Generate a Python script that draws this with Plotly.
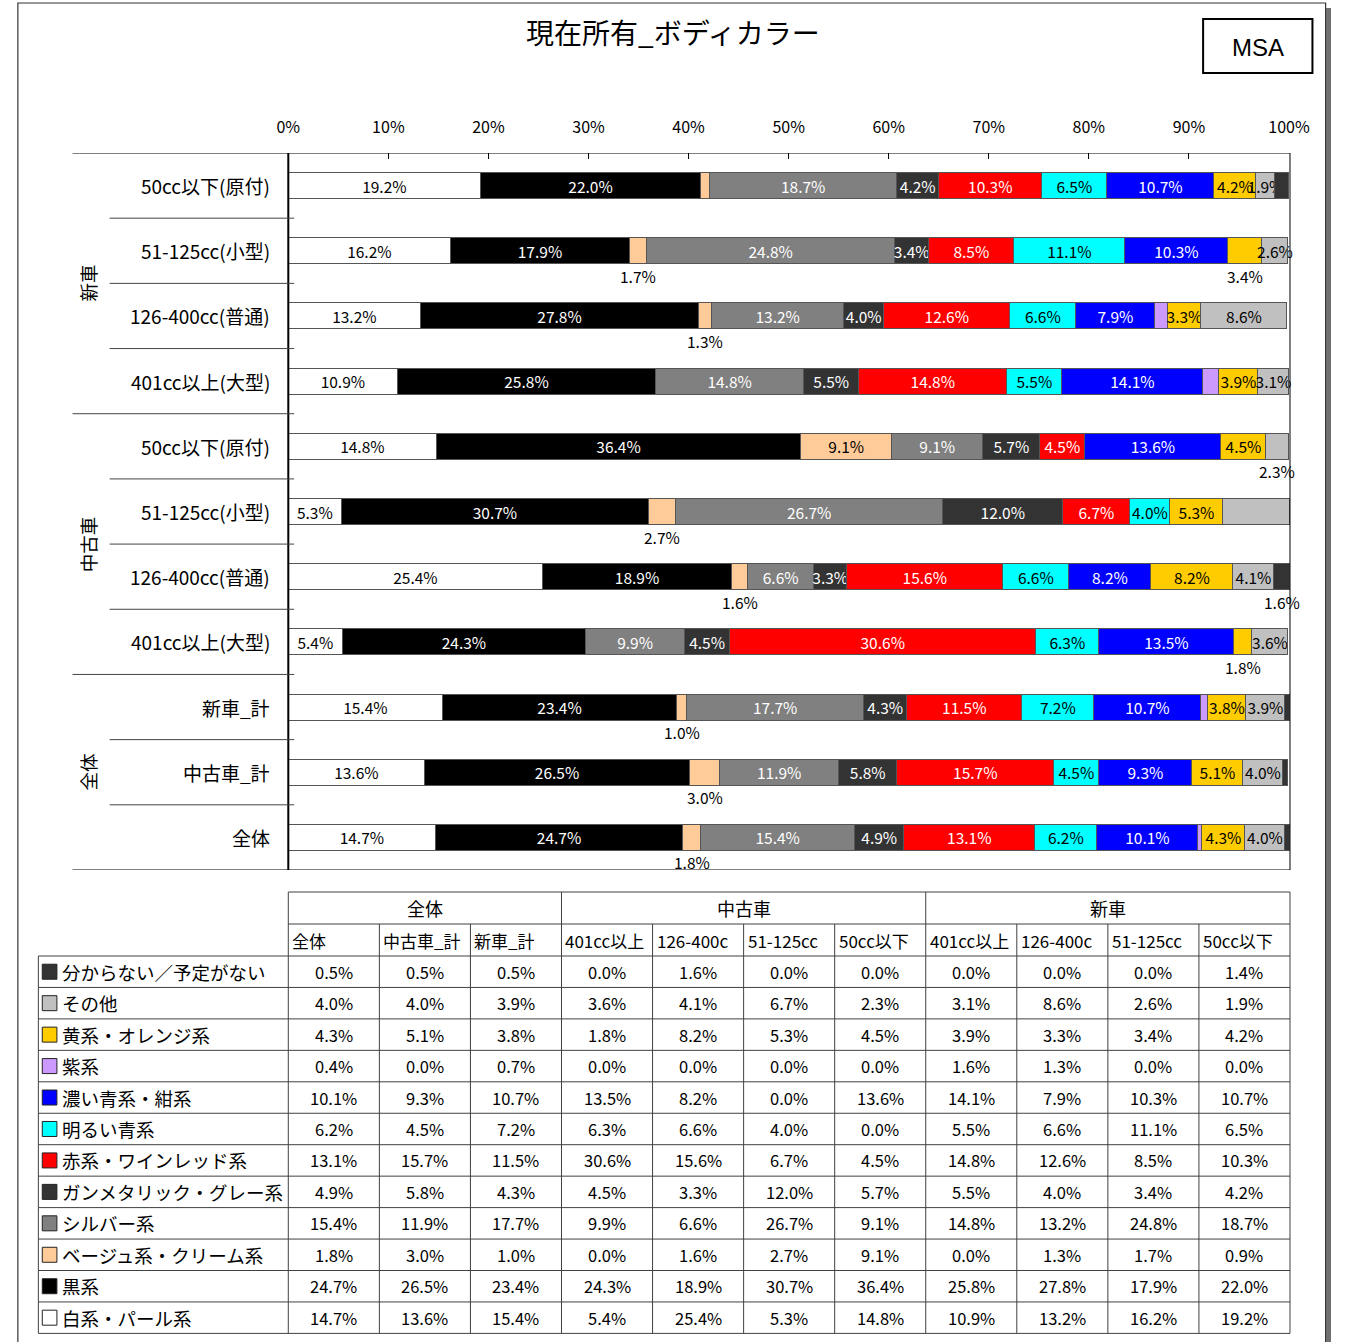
import plotly.graph_objects as go

# ---------------- data ----------------
CATEGORIES = ["50cc以下(原付)", "51-125cc(小型)", "126-400cc(普通)", "401cc以上(大型)",
              "50cc以下(原付)", "51-125cc(小型)", "126-400cc(普通)", "401cc以上(大型)",
              "新車_計", "中古車_計", "全体"]
GROUPS = [("新車", 0, 3), ("中古車", 4, 7), ("全体", 8, 10)]

SERIES = ["白系・パール系", "黒系", "ベージュ系・クリーム系", "シルバー系", "ガンメタリック・グレー系",
          "赤系・ワインレッド系", "明るい青系", "濃い青系・紺系", "紫系", "黄系・オレンジ系",
          "その他", "分からない／予定がない"]

white  = [19.2, 16.2, 13.2, 10.9, 14.8, 5.3, 25.4, 5.4, 15.4, 13.6, 14.7]
black  = [22.0, 17.9, 27.8, 25.8, 36.4, 30.7, 18.9, 24.3, 23.4, 26.5, 24.7]
beige  = [0.9, 1.7, 1.3, 0.0, 9.1, 2.7, 1.6, 0.0, 1.0, 3.0, 1.8]
silver = [18.7, 24.8, 13.2, 14.8, 9.1, 26.7, 6.6, 9.9, 17.7, 11.9, 15.4]
gunmet = [4.2, 3.4, 4.0, 5.5, 5.7, 12.0, 3.3, 4.5, 4.3, 5.8, 4.9]
red    = [10.3, 8.5, 12.6, 14.8, 4.5, 6.7, 15.6, 30.6, 11.5, 15.7, 13.1]
light_blue = [6.5, 11.1, 6.6, 5.5, 0.0, 4.0, 6.6, 6.3, 7.2, 4.5, 6.2]
dark_blue  = [10.7, 10.3, 7.9, 14.1, 13.6, 0.0, 8.2, 13.5, 10.7, 9.3, 10.1]
purple = [0.0, 0.0, 1.3, 1.6, 0.0, 0.0, 0.0, 0.0, 0.7, 0.0, 0.4]
yellow = [4.2, 3.4, 3.3, 3.9, 4.5, 5.3, 8.2, 1.8, 3.8, 5.1, 4.3]
other  = [1.9, 2.6, 8.6, 3.1, 2.3, 6.7, 4.1, 3.6, 3.9, 4.0, 4.0]
unknown = [1.4, 0.0, 0.0, 0.0, 0.0, 0.0, 1.6, 0.0, 0.5, 0.5, 0.5]
SERIES_VALUES = [white, black, beige, silver, gunmet, red, light_blue, dark_blue,
                 purple, yellow, other, unknown]

TICK_VALUES = [0, 10, 20, 30, 40, 50, 60, 70, 80, 90, 100]
TICK_LABELS = [f"{t}%" for t in TICK_VALUES]

TABLE_GROUPS = [("全体", 3), ("中古車", 4), ("新車", 4)]
TABLE_COLS = ["全体", "中古車_計", "新車_計", "401cc以上", "126-400c", "51-125cc", "50cc以下",
              "401cc以上", "126-400c", "51-125cc", "50cc以下"]

# ---------------- styles ----------------
COLORS = ["#FFFFFF", "#000000", "#FFCC99", "#808080", "#333333", "#FF0000", "#00FFFF",
          "#0000FF", "#CC99FF", "#FFCC00", "#C0C0C0", "#333333"]
TEXT_COLORS = ["black", "white", "black", "white", "white", "white", "black",
               "white", "black", "black", "black", "white"]
HIDDEN_SERIES = {"紫系", "分からない／予定がない"}
BELOW = {(1, "ベージュ系・クリーム系"), (1, "黄系・オレンジ系"), (2, "ベージュ系・クリーム系"),
         (4, "その他"), (5, "ベージュ系・クリーム系"), (6, "ベージュ系・クリーム系"),
         (6, "分からない／予定がない"), (7, "黄系・オレンジ系"), (8, "ベージュ系・クリーム系"),
         (9, "ベージュ系・クリーム系"), (10, "ベージュ系・クリーム系")}
FONT = "Noto Sans CJK JP"
W, H = 1351, 1342
PL, PR, PT, PB = 283, 1309, 153, 870


def px(x):
    return x / W


def py(y):
    return 1 - y / H


def note(x, y, text, size, xanchor="center", yanchor="middle", **kw):
    d = dict(x=x, y=y, text=text, showarrow=False, xanchor=xanchor, yanchor=yanchor,
             font=dict(family=kw.pop("family", FONT), size=size, color=kw.pop("color", "black")))
    d.update(kw)
    return d


fig = go.Figure()
ypos = list(range(len(CATEGORIES)))
for s, (name, vals) in enumerate(zip(SERIES, SERIES_VALUES)):
    texts = []
    for i, v in enumerate(vals):
        if (i, name) in BELOW or name in HIDDEN_SERIES or v < 1.5:
            texts.append("")
        else:
            texts.append(f"{v:.1f}%")
    fig.add_trace(go.Bar(
        x=vals, y=ypos, orientation="h", name=name, width=0.4,
        marker=dict(color=COLORS[s], line=dict(color="#555555", width=1)),
        text=texts, textposition="inside", insidetextanchor="middle",
        constraintext="none", textangle=0, cliponaxis=False,
        textfont=dict(family=FONT, size=15.5, color=TEXT_COLORS[s]),
        hoverinfo="skip", showlegend=False))

shapes = []
annotations = []

# labels placed under the bar
for s, (name, vals) in enumerate(zip(SERIES, SERIES_VALUES)):
    for i, v in enumerate(vals):
        if (i, name) in BELOW:
            start = sum(SERIES_VALUES[k][i] for k in range(s))
            annotations.append(note(start + v / 2, i, f"{v:.1f}%", 15.5, xref="x", yref="y", yshift=-25))

# plot frame lines
line_k = dict(color="black", width=1)
shapes.append(dict(type="line", xref="paper", yref="y", x0=px(62), x1=px(PR), y0=-0.5, y1=-0.5, line=line_k))
shapes.append(dict(type="line", xref="paper", yref="y", x0=px(62), x1=px(PR), y0=10.5, y1=10.5, line=line_k))
shapes.append(dict(type="line", xref="paper", yref="y", x0=px(PL), x1=px(PL), y0=-0.5, y1=10.5,
                   line=dict(color="black", width=2)))
shapes.append(dict(type="line", xref="paper", yref="y", x0=px(PR), x1=px(PR), y0=-0.5, y1=10.5, line=line_k))
group_bounds = [g[2] + 0.5 for g in GROUPS[:-1]]
for k in range(len(CATEGORIES) - 1):
    b = k + 0.5
    x0 = 62 if b in group_bounds else 100
    shapes.append(dict(type="line", xref="paper", yref="y", x0=px(x0), x1=px(289), y0=b, y1=b,
                       line=dict(color="#444444", width=1)))

# category labels
for i, c in enumerate(CATEGORIES):
    annotations.append(note(px(266), i, c, 19, xanchor="right", xref="paper", yref="y"))
for g, a, b in GROUPS:
    annotations.append(note(px(78), (a + b) / 2, g, 18.5, xref="paper", yref="y", textangle=-90))

# title and MSA box
annotations.append(note(px(677), py(32), "現在所有_ボディカラー", 28, xref="paper", yref="paper"))
shapes.append(dict(type="rect", xref="paper", yref="paper", x0=px(1220), x1=px(1332), y0=py(19), y1=py(73),
                   line=dict(color="black", width=2)))
annotations.append(note(px(1276), py(47), "MSA", 24, family="Liberation Sans", xref="paper", yref="paper"))

# outer frame + shadow
shapes.append(dict(type="rect", xref="paper", yref="paper", x0=px(1346), x1=px(1351), y0=py(8), y1=py(1342),
                   line=dict(width=0), fillcolor="#707070"))
shapes.append(dict(type="rect", xref="paper", yref="paper", x0=px(6), x1=px(1345.5), y0=py(3), y1=py(1350),
                   line=dict(color="#333333", width=1.2)))

# ---------------- table ----------------
ncol = len(TABLE_COLS)
cw = (PR - PL) / ncol
T1, T2, T3 = 892, 924, 956
rh = 31.45
nrow = len(SERIES)
TB = T3 + rh * nrow
TL = 27
tline = dict(color="#404040", width=1)
shapes.append(dict(type="line", xref="paper", yref="paper", x0=px(PL), x1=px(PR), y0=py(T1), y1=py(T1), line=tline))
shapes.append(dict(type="line", xref="paper", yref="paper", x0=px(PL), x1=px(PR), y0=py(T2), y1=py(T2), line=tline))
for r in range(nrow + 1):
    yy = T3 + rh * r
    shapes.append(dict(type="line", xref="paper", yref="paper", x0=px(TL), x1=px(PR), y0=py(yy), y1=py(yy), line=tline))
shapes.append(dict(type="line", xref="paper", yref="paper", x0=px(TL), x1=px(TL), y0=py(T3), y1=py(TB), line=tline))
group_edges = [0]
for _, n in TABLE_GROUPS:
    group_edges.append(group_edges[-1] + n)
for j in range(ncol + 1):
    xx = PL + cw * j
    top = T1 if j in group_edges else T2
    shapes.append(dict(type="line", xref="paper", yref="paper", x0=px(xx), x1=px(xx), y0=py(top), y1=py(TB), line=tline))
for (g, n), e0 in zip(TABLE_GROUPS, group_edges):
    cx = PL + cw * (e0 + n / 2)
    annotations.append(note(px(cx), py((T1 + T2) / 2), g, 18, xref="paper", yref="paper"))
for j, c in enumerate(TABLE_COLS):
    annotations.append(note(px(PL + cw * j + 2), py((T2 + T3) / 2), c, 17, xanchor="left",
                            xref="paper", yref="paper"))
# rows: reversed series order; columns: reversed category order
ncat = len(CATEGORIES)
for r in range(nrow):
    s = nrow - 1 - r
    cy = T3 + rh * (r + 0.5)
    shapes.append(dict(type="rect", xref="paper", yref="paper", x0=px(31), x1=px(46), y0=py(cy - 7.5), y1=py(cy + 7.5),
                       fillcolor=COLORS[s], line=dict(color="#222222", width=1)))
    annotations.append(note(px(49), py(cy), SERIES[s], 18.5, xanchor="left", xref="paper", yref="paper"))
    for j in range(ncol):
        v = SERIES_VALUES[s][ncat - 1 - j]
        annotations.append(note(px(PL + cw * (j + 0.5)), py(cy), f"{v:.1f}%", 16.5, xref="paper", yref="paper"))

fig.update_layout(
    width=W, height=H, autosize=False, margin=dict(l=0, r=0, t=0, b=0, pad=0),
    paper_bgcolor="white", plot_bgcolor="white",
    barmode="stack",
    xaxis=dict(domain=[px(PL), px(PR)], range=[0, 100.1], side="top", tickvals=TICK_VALUES,
               ticktext=TICK_LABELS, ticks="inside", ticklen=6, tickcolor="black",
               showgrid=False, zeroline=False, showline=False, ticklabelstandoff=16,
               tickfont=dict(family=FONT, size=16, color="black"), fixedrange=True),
    yaxis=dict(domain=[py(PB), py(PT)], range=[10.5, -0.5], visible=False, fixedrange=True),
    shapes=shapes, annotations=annotations, showlegend=False,
)

fig.write_html("out.html", config={"responsive": False, "displayModeBar": False},
               post_script="document.body.style.margin='0';")
